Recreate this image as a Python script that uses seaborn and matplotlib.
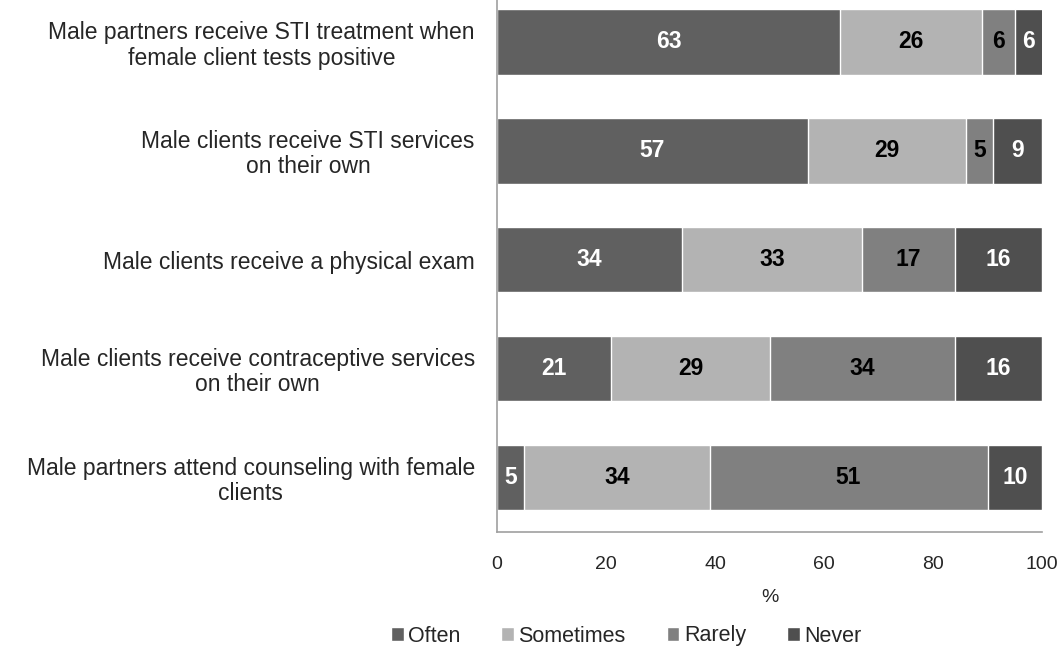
import numpy as np
import pandas as pd
import seaborn as sns
import matplotlib.pyplot as plt
from matplotlib.patches import Patch

# Data
categories = [
    "Male partners receive STI treatment when\nfemale client tests positive",
    "Male clients receive STI services\non their own",
    "Male clients receive a physical exam",
    "Male clients receive contraceptive services\non their own",
    "Male partners attend counseling with female\nclients",
]
series = ["Often", "Sometimes", "Rarely", "Never"]
often = [63, 57, 34, 21, 5]
sometimes = [26, 29, 33, 29, 34]
rarely = [6, 5, 17, 34, 51]
never = [6, 9, 16, 16, 10]

colors = ["#606060", "#b3b3b3", "#808080", "#4f4f4f"]
label_colors = ["white", "black", "black", "white"]

sns.set_style("white")
plt.rcParams["font.family"] = ["Liberation Sans", "DejaVu Sans"]

df = pd.DataFrame({"cat": categories, "Often": often, "Sometimes": sometimes,
                   "Rarely": rarely, "Never": never})
cum = df[series].cumsum(axis=1)

fig = plt.figure(figsize=(10.64, 6.53), dpi=100)
ax = fig.add_axes([497 / 1064, (653 - 532) / 653, 545 / 1064, 532 / 653])

# draw cumulative totals from the largest down so they stack visually
for name, col in reversed(list(zip(series, colors))):
    sns.barplot(x=cum[name], y=df["cat"], orient="h", color=col, width=0.6,
                saturation=1, ax=ax, zorder=2)

for i, name in enumerate(series):
    for j in range(len(categories)):
        val = df[name][j]
        xc = min(cum[name][j], 100) - val / 2
        if name == "Never":
            xc = (min(cum[name][j], 100) + cum["Rarely"][j]) / 2
        ax.text(xc, j, f"{val}", ha="center", va="center",
                color=label_colors[i], fontweight="bold", fontsize=16.5)

ax.set_xlim(0, 100)
ax.set_ylim(4.5, -0.385)
ax.set_xticks([0, 20, 40, 60, 80, 100])
ax.tick_params(axis="x", labelsize=14, length=0, pad=17)
ax.tick_params(axis="y", labelsize=16.5, length=0, pad=16)
for lbl in ax.get_yticklabels():
    lbl.set_multialignment("center")
    lbl.set_linespacing(1.12)
ax.set_ylabel("")
ax.set_xlabel("%", fontsize=14, labelpad=12)

for s in ["top", "right"]:
    ax.spines[s].set_visible(False)
for s in ["left", "bottom"]:
    ax.spines[s].set_color("#a0a0a0")
    ax.spines[s].set_linewidth(1.2)

handles = [Patch(facecolor=c, label=n) for n, c in zip(series, colors)]
fig.legend(handles=handles, loc="center", bbox_to_anchor=(626 / 1064, 1 - 636 / 653),
           ncol=4, frameon=False, fontsize=15.5, handlelength=0.6, handleheight=0.6,
           handletextpad=0.2, columnspacing=1.9)

fig.savefig("out.png", dpi=100)
